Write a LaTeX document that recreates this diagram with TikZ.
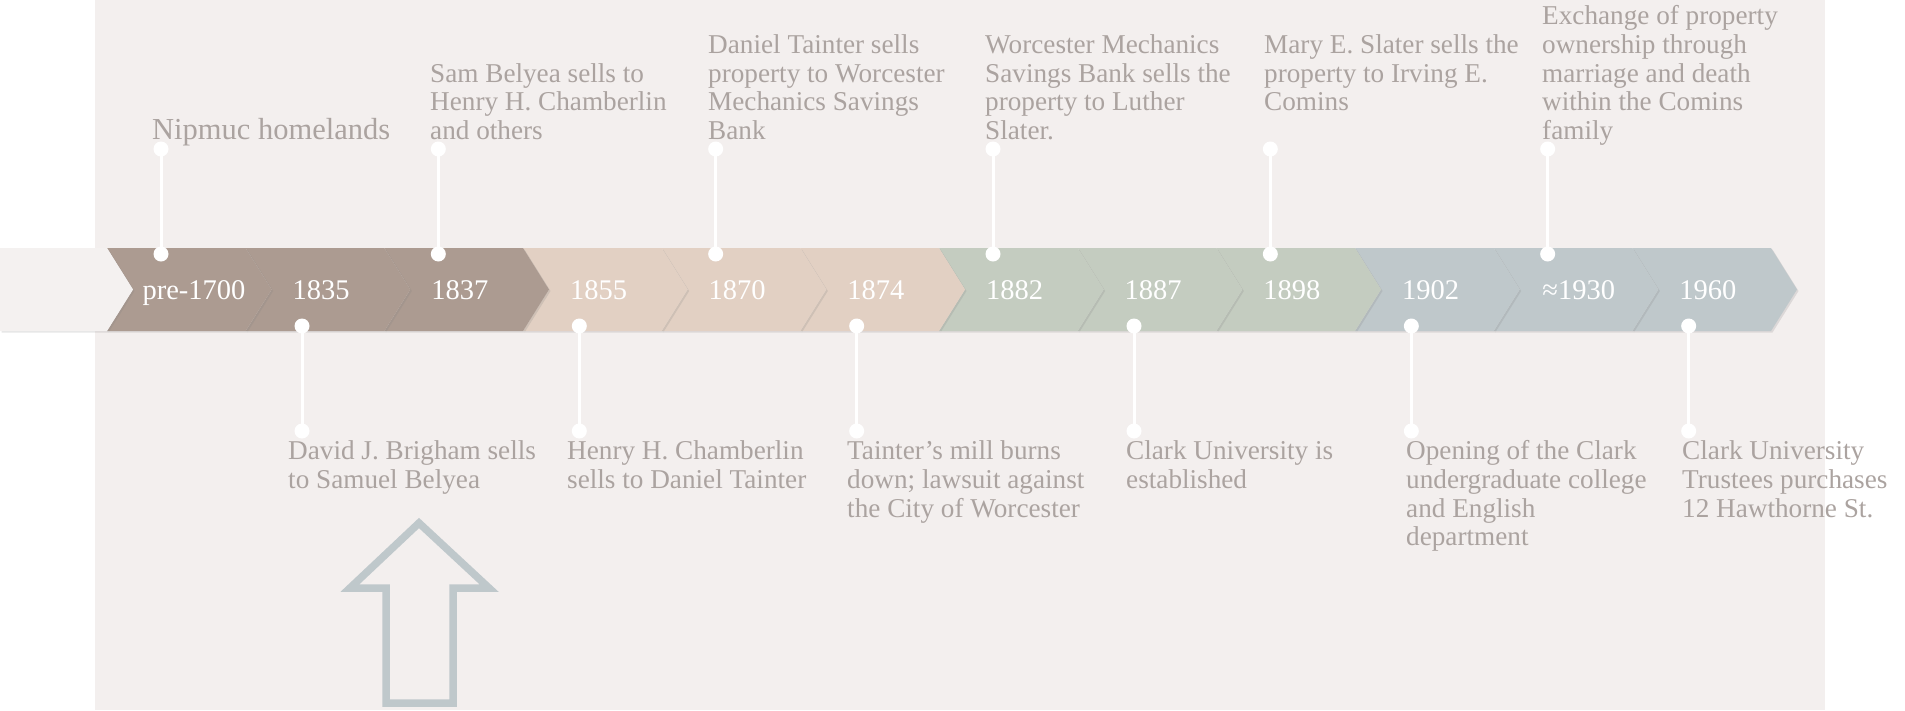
\documentclass[tikz,border=0pt]{standalone}
\usepackage{fontspec}
\setmainfont{Liberation Serif}
\usetikzlibrary{shadows}
\definecolor{bg}{HTML}{F3EFEE}
\definecolor{cfirst}{HTML}{F4F1F0}
\definecolor{ctaupe}{HTML}{AC9B91}
\definecolor{cbeige}{HTML}{E2D0C3}
\definecolor{csage}{HTML}{C4CCC0}
\definecolor{cblue}{HTML}{BFC8CB}
\definecolor{txt}{HTML}{ABA3A0}
\tikzset{
  desc/.style={anchor=north west, inner sep=0pt, align=left, text=txt, font=\fontsize{27.2}{28.7}\selectfont},
  yr/.style={anchor=base, inner sep=0pt, text=white, font=\fontsize{28.5}{30}\selectfont},
  dot/.style={circle, fill=white, inner sep=0pt, minimum size=15pt},
  stem/.style={draw=white, line width=3pt},
  chev/.style={drop shadow={shadow xshift=1.5pt, shadow yshift=-1.5pt, opacity=0.2}},
}
\begin{document}
\begin{tikzpicture}[x=1pt,y=-1pt]
\useasboundingbox (0,0) rectangle (1905,710);
\fill[bg] (95,0) rectangle (1825,710);
% chevrons, right to left
\foreach \i/\c in {12/cblue,11/cblue,10/cblue,9/csage,8/csage,7/csage,6/cbeige,5/cbeige,4/cbeige,3/ctaupe,2/ctaupe,1/ctaupe}{
  \pgfmathsetmacro\ta{133+138.667*(\i-1)}
  \pgfmathsetmacro\tb{133+138.667*\i}
  \fill[\c, chev] (\ta-26,248) -- (\tb-26,248) -- (\tb,289.5) -- (\tb-26,331) -- (\ta-26,331) -- (\ta,289.5) -- cycle;
}
\fill[cfirst, chev] (0,248) -- (107,248) -- (133,289.5) -- (107,331) -- (0,331) -- cycle;
% year labels
\node[yr] (y1) at (194,299) {pre-1700};
\node[yr] (y2) at (321.2,299) {1835};
\node[yr] (y3) at (459.8,299) {1837};
\node[yr] (y4) at (598.5,299) {1855};
\node[yr] (y5) at (737.2,299) {1870};
\node[yr] (y6) at (875.8,299) {1874};
\node[yr] (y7) at (1014.5,299) {1882};
\node[yr] (y8) at (1153.2,299) {1887};
\node[yr] (y9) at (1291.8,299) {1898};
\node[yr] (y10) at (1430.5,299) {1902};
\node[yr] (y11) at (1578.7,299) {≈1930};
\node[yr] (y12) at (1707.8,299) {1960};
% pins
\foreach \k in {0,...,5}{
  \pgfmathsetmacro\px{161+277.333*\k}
  \node[dot] (ta\k) at (\px,149) {};
  \node[dot] (tb\k) at (\px,254) {};
  \draw[stem] (ta\k.center) -- (tb\k.center);
  \node[dot] (ba\k) at (\px+141,326) {};
  \node[dot] (bb\k) at (\px+141,431) {};
  \draw[stem] (ba\k.center) -- (bb\k.center);
}
% top texts
\node[inner sep=0pt, anchor=base west, text=txt, font=\fontsize{30.5}{34}\selectfont] (d1) at (152,139) {Nipmuc homelands};
\node[desc] (d3) at (430,62) {\strut Sam Belyea sells to\\Henry H. Chamberlin\\and others};
\node[desc] (d5) at (708,33.3) {\strut Daniel Tainter sells\\property to Worcester\\Mechanics Savings\\Bank};
\node[desc] (d7) at (985,33.3) {\strut Worcester Mechanics\\Savings Bank sells the\\property to Luther\\Slater.};
\node[desc] (d9) at (1264,33.3) {\strut Mary E. Slater sells the\\property to Irving E.\\Comins};
\node[desc] (d11) at (1542,4.6) {\strut Exchange of property\\ownership through\\marriage and death\\within the Comins\\family};
% bottom texts
\node[desc] (d2) at (288,439.5) {\strut David J. Brigham sells\\to Samuel Belyea};
\node[desc] (d4) at (567,439.5) {\strut Henry H. Chamberlin\\sells to Daniel Tainter};
\node[desc] (d6) at (847,439.5) {\strut Tainter’s mill burns\\down; lawsuit against\\the City of Worcester};
\node[desc] (d8) at (1126,439.5) {\strut Clark University is\\established};
\node[desc] (d10) at (1406,439.5) {\strut Opening of the Clark\\undergraduate college\\and English\\department};
\node[desc] (d12) at (1682,439.5) {\strut Clark University\\Trustees purchases\\12 Hawthorne St.};
% outline arrow
\draw[cblue, line width=7.5pt, line join=miter] (419,523) -- (489,588) -- (453,588) -- (453,703) -- (386,703) -- (386,588) -- (350,588) -- cycle;
\end{tikzpicture}
\end{document}
